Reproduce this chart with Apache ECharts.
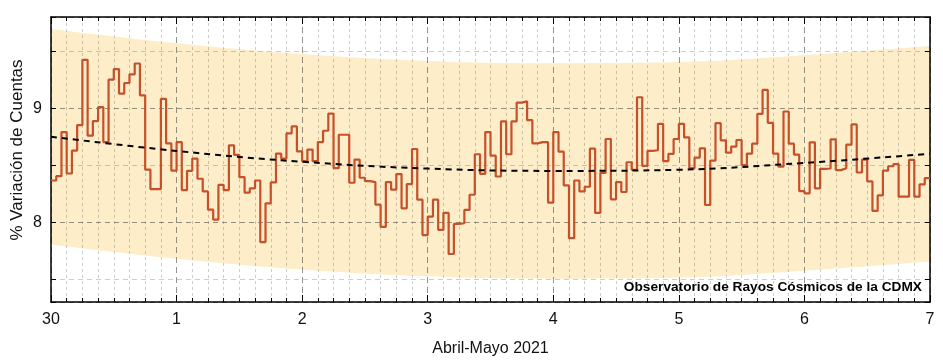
<!DOCTYPE html>
<html><head><meta charset="utf-8">
<script src="https://cdn.jsdelivr.net/npm/echarts@6/dist/echarts.min.js"></script>
<style>html,body{margin:0;padding:0;background:#fff}#c{width:943px;height:363px}</style>
</head><body><div id="c"></div>
<script>
const xTickLabels = ['30','1','2','3','4','5','6','7'];
const yTickLabels = ['8','9'];
const xAxisTitle = 'Abril-Mayo 2021';
const yAxisTitle = '% Variación de Cuentas';
const noteText = 'Observatorio de Rayos Cósmicos de la CDMX';

// hourly values, 30 Apr 00h .. 6 May 23h
const hourlyValues = [
  8.366, 8.404, 8.791, 8.427, 8.628, 8.852, 9.424, 8.759, 8.887, 9.009, 8.703, 9.250, 9.343, 9.128, 9.221, 9.297, 9.392, 9.113, 8.462, 8.291, 8.291, 9.081, 8.692, 8.453,
  8.703, 8.282, 8.451, 8.558, 8.381, 8.270, 8.110, 8.023, 8.328, 8.282, 8.674, 8.590, 8.395, 8.259, 8.297, 8.366, 7.826, 8.166, 8.349, 8.602, 8.558, 8.779, 8.840, 8.622,
  8.535, 8.637, 8.535, 8.703, 8.802, 8.953, 8.474, 8.767, 8.767, 8.346, 8.549, 8.390, 8.360, 8.352, 8.154, 7.959, 8.352, 8.285, 8.422, 8.122, 8.334, 8.642, 8.198, 7.887,
  8.049, 8.198, 7.933, 8.081, 7.721, 7.985, 7.991, 8.108, 8.241, 8.596, 8.424, 8.791, 8.584, 8.401, 8.884, 8.596, 8.884, 9.049, 9.061, 8.895, 8.692, 8.703, 8.703, 8.172,
  8.791, 8.619, 8.323, 7.860, 8.366, 8.270, 8.311, 8.645, 8.081, 8.433, 8.730, 8.201, 8.352, 8.265, 8.526, 8.459, 9.096, 8.494, 8.625, 8.631, 8.863, 8.535, 8.599, 8.730,
  8.863, 8.744, 8.474, 8.567, 8.648, 8.151, 8.541, 8.869, 8.718, 8.610, 8.663, 8.721, 8.500, 8.602, 8.689, 8.951, 9.160, 8.872, 8.602, 8.488, 8.971, 8.689, 8.593, 8.273,
  8.253, 8.701, 8.297, 8.468, 8.471, 8.727, 8.457, 8.474, 8.680, 8.858, 8.436, 8.549, 8.358, 8.099, 8.235, 8.453, 8.491, 8.509, 8.224, 8.224, 8.547, 8.224, 8.331, 8.387
];
// trend and band, read at each day boundary (0..7)
const dayIndex    = [0, 1, 2, 3, 4, 5, 6, 7];
const trendValues = [8.750, 8.625, 8.530, 8.470, 8.450, 8.460, 8.520, 8.600];
const bandUpper   = [9.695, 9.570, 9.475, 9.415, 9.395, 9.405, 9.465, 9.545];
const bandLower   = [7.805, 7.680, 7.585, 7.525, 7.505, 7.515, 7.575, 7.655];

const HOURS = 24;
const FONT = '"Liberation Sans", Arial, sans-serif';

const stepData = hourlyValues.map((v, i) => [i, v]);
stepData.push([hourlyValues.length, hourlyValues[hourlyValues.length - 1]]);

const chart = echarts.init(document.getElementById('c'), null, {renderer: 'canvas'});
const frameLine = {show: true, onZero: false, lineStyle: {color: '#000', width: 1.5}};
const tickStyle = {color: '#000', width: 1};
const majorGrid = 'rgba(60,60,60,0.55)';
const minorGrid = 'rgba(90,90,90,0.3)';

chart.setOption({
  animation: false,
  backgroundColor: '#fff',
  grid: {left: 51, right: 13, top: 17, bottom: 61},
  xAxis: [{
    type: 'value', min: 0, max: 168, interval: HOURS, position: 'bottom',
    axisLine: frameLine,
    axisTick: {show: true, inside: true, length: 7, lineStyle: tickStyle},
    minorTick: {show: true, splitNumber: 8, length: 4, lineStyle: tickStyle},
    axisLabel: {formatter: v => xTickLabels[Math.round(v / HOURS)] || '', color: '#111', fontSize: 16, fontFamily: FONT, margin: 10},
    splitLine: {show: true, lineStyle: {color: majorGrid, width: 1, type: [6, 4]}},
    minorSplitLine: {show: true, lineStyle: {color: minorGrid, width: 1, type: [3, 3]}},
    name: xAxisTitle, nameLocation: 'middle', nameGap: 39,
    nameTextStyle: {color: '#111', fontSize: 16, fontFamily: FONT}
  }, {
    type: 'value', min: 0, max: 168, interval: HOURS, position: 'top',
    axisLine: frameLine,
    axisTick: {show: true, inside: true, length: 7, lineStyle: tickStyle},
    minorTick: {show: true, splitNumber: 8, length: 4, lineStyle: tickStyle},
    axisLabel: {show: false}, splitLine: {show: false}
  }],
  yAxis: [{
    type: 'value', min: 7.3, max: 9.8, splitNumber: 5, position: 'left',
    axisLine: frameLine,
    axisTick: {show: true, inside: true, length: 5, lineStyle: tickStyle},
    axisLabel: {formatter: v => yTickLabels.includes(String(v)) ? String(v) : '', color: '#111', fontSize: 16, fontFamily: FONT, margin: 9},
    splitLine: {show: true, lineStyle: {color: [majorGrid, minorGrid], width: 1, type: [5, 4]}}
  }, {
    type: 'value', min: 7.3, max: 9.8, splitNumber: 5, position: 'right',
    axisLine: frameLine,
    axisTick: {show: true, inside: true, length: 5, lineStyle: tickStyle},
    axisLabel: {show: false}, splitLine: {show: false}
  }],
  graphic: [{
    type: 'text', x: 17, y: 150, rotation: Math.PI / 2,
    style: {text: yAxisTitle, x: 0, y: 0, align: 'center', verticalAlign: 'middle', fill: '#111', font: '17px ' + FONT}
  }, {
    type: 'text', x: 922, y: 287, z: 100,
    style: {text: noteText, x: 0, y: 0, align: 'right', verticalAlign: 'middle', fill: '#000', font: 'bold 13.7px ' + FONT}
  }],
  series: [{
    type: 'line', name: 'banda superior', silent: true, symbol: 'none', smooth: 0.4, z: -3,
    data: dayIndex.map((d, i) => [d * HOURS, bandUpper[i]]),
    lineStyle: {width: 0, opacity: 0},
    areaStyle: {color: '#fdedc8', opacity: 1, origin: 'start'}
  }, {
    type: 'line', name: 'banda inferior', silent: true, symbol: 'none', smooth: 0.4, z: -2,
    data: dayIndex.map((d, i) => [d * HOURS, bandLower[i]]),
    lineStyle: {width: 0, opacity: 0},
    areaStyle: {color: '#ffffff', opacity: 1, origin: 'start'}
  }, {
    type: 'line', name: 'cuentas', step: 'end', symbol: 'none', silent: true,
    data: stepData,
    lineStyle: {color: '#c6502a', width: 2.2}, z: 3
  }, {
    type: 'line', name: 'tendencia', symbol: 'none', smooth: 0.4, silent: true,
    data: dayIndex.map((d, i) => [d * HOURS, trendValues[i]]),
    lineStyle: {color: '#000', width: 2, type: [6, 5]}, z: 4
  }]
});
</script>
</body></html>
